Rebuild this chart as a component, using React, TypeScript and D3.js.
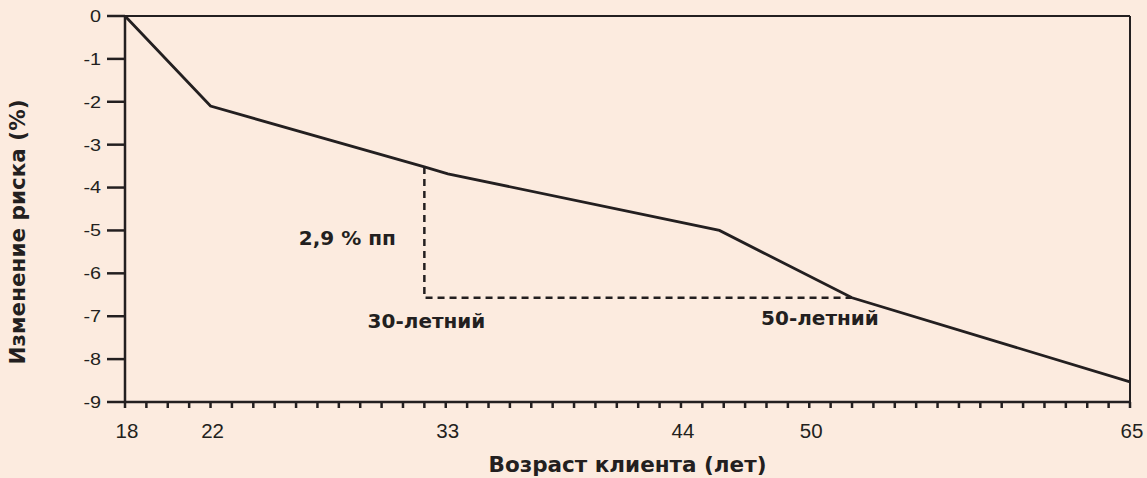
import React from "react";
import * as d3 from "d3";

const ages = [18, 22, 32, 33.1, 45.8, 52, 65];
const riskChange = [0, -2.1, -3.52, -3.68, -5.0, -6.57, -8.53];
const xTickLabels = [18, 22, 33, 44, 50, 65];
const yTickLabels = [0, -1, -2, -3, -4, -5, -6, -7, -8, -9];
const guideFrom = { age: 32, risk: -3.52 };
const guideTo = { age: 52, risk: -6.57 };
const annotations = [
  { text: "2,9 % пп", age: 28.4, risk: -5.18 },
  { text: "30-летний", age: 32.1, risk: -7.1 },
  { text: "50-летний", age: 50.5, risk: -7.05 },
];

const W = 1147;
const H = 478;
const M = { left: 125, right: 17, top: 16, bottom: 76 };
const BG = "#fcebdf";
const INK = "#231f20";

export default function App() {
  const x = d3.scaleLinear().domain([18, 65]).range([M.left, W - M.right]);
  const y = d3.scaleLinear().domain([0, -9]).range([M.top, H - M.bottom]);
  const pts = ages.map((a, i) => [a, riskChange[i]] as [number, number]);
  const line = d3.line<[number, number]>().x((d) => x(d[0])).y((d) => y(d[1]));
  const minor = d3.range(18, 66, 1);
  const x0 = x(18), x1 = x(65), y0 = y(0), y1 = y(-9);
  return (
    <svg width={W} height={H} style={{ display: "block", position: "absolute", left: 0, top: 0, background: BG }}>
      <rect x={0} y={0} width={W} height={H} fill={BG} />
      <line x1={x0} x2={x1} y1={y0} y2={y0} stroke={INK} strokeWidth={2} />
      <line x1={x1} x2={x1} y1={y0} y2={y1} stroke={INK} strokeWidth={2} />
      <line x1={x0} x2={x0} y1={y0} y2={y1} stroke={INK} strokeWidth={2.5} />
      <line x1={x0} x2={x1} y1={y1} y2={y1} stroke={INK} strokeWidth={2.5} />
      {yTickLabels.map((v) => (
        <g key={v}>
          <line x1={x0 - 18} x2={x0} y1={y(v)} y2={y(v)} stroke={INK} strokeWidth={2.5} />
          <text
            transform={`translate(${x0 - 24},${y(v)}) scale(1.2,1)`}
            dy="0.36em"
            textAnchor="end"
            fontFamily="Liberation Sans, Arial, sans-serif"
            fontSize={16.5}
            fill={INK}
          >
            {v}
          </text>
        </g>
      ))}
      {minor.map((v) => (
        <line key={v} x1={x(v)} x2={x(v)} y1={y1} y2={y1 + 6} stroke={INK} strokeWidth={2.5} />
      ))}
      {xTickLabels.map((v) => (
        <text key={v} x={x(v) + 2} y={y1 + 36} textAnchor="middle" fontFamily="Liberation Sans, Arial, sans-serif" fontSize={20.5} fill={INK}>
          {v}
        </text>
      ))}
      <path
        d={`M${x(guideFrom.age)},${y(guideFrom.risk)}V${y(guideTo.risk)}H${x(guideTo.age)}`}
        fill="none"
        stroke={INK}
        strokeWidth={2.5}
        strokeDasharray="7,5"
      />
      <path d={line(pts) || ""} fill="none" stroke={INK} strokeWidth={2.8} strokeLinejoin="miter" />
      {annotations.map((a) => (
        <text key={a.text} x={x(a.age)} y={y(a.risk)} dy="0.35em" textAnchor="middle" fontFamily="DejaVu Sans, Verdana, sans-serif" fontWeight="bold" fontSize={20} fill={INK}>
          {a.text}
        </text>
      ))}
      <text x={(x0 + x1) / 2} y={H - 6} textAnchor="middle" fontFamily="DejaVu Sans, Verdana, sans-serif" fontWeight="bold" fontSize={21.5} fill={INK}>
        Возраст клиента (лет)
      </text>
      <text transform={`translate(25,232) rotate(-90)`} textAnchor="middle" fontFamily="DejaVu Sans, Verdana, sans-serif" fontWeight="bold" fontSize={21.5} fill={INK}>
        Изменение риска (%)
      </text>
    </svg>
  );
}
